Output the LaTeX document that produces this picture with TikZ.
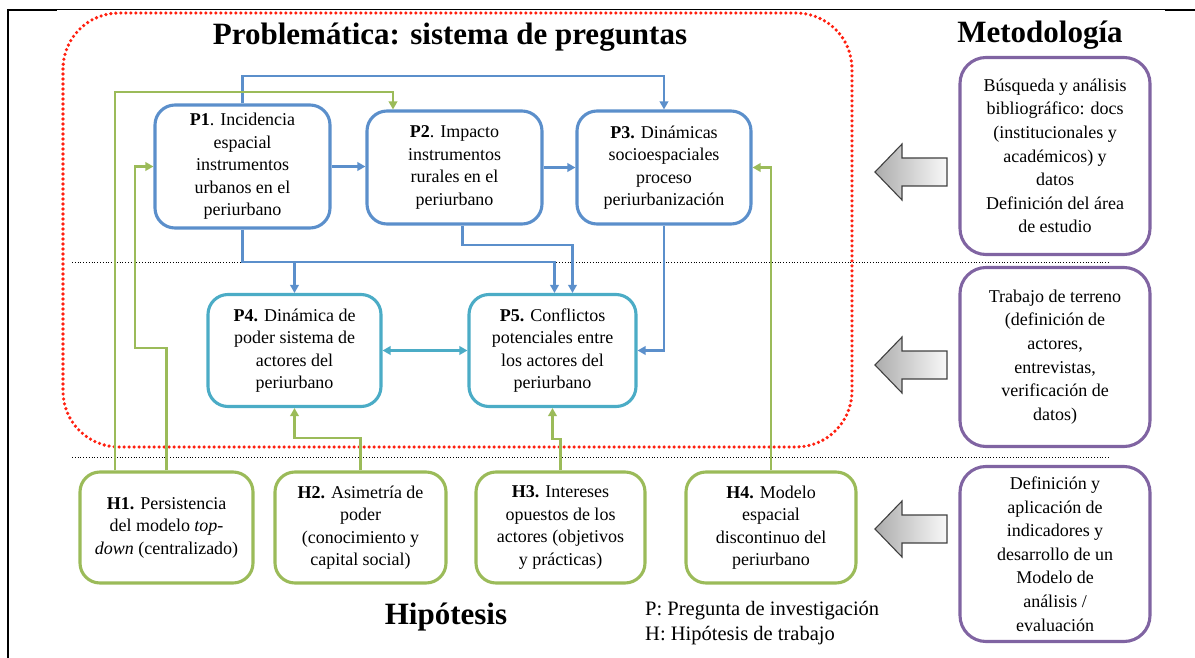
\documentclass[tikz,border=0pt]{standalone}
\usepackage{fontspec}
\setmainfont{Liberation Serif}
\usetikzlibrary{arrows.meta,calc}
\definecolor{pblue}{HTML}{5B8FCB}
\definecolor{pcyan}{HTML}{4BACC6}
\definecolor{hgreen}{HTML}{9BBB59}
\definecolor{mpurple}{HTML}{8064A2}
\definecolor{rdot}{HTML}{FF2010}
\begin{document}
\begin{tikzpicture}[x=1pt,y=-1pt,
  box/.style={draw, line width=3.1pt, rounded corners=20pt, fill=white, align=center, inner sep=2pt,
    font=\fontsize{18}{22.5}\selectfont},
  pbox/.style={box, draw=pblue},
  cbox/.style={box, draw=pcyan},
  hbox/.style={box, draw=hgreen},
  mbox/.style={box, draw=mpurple, rounded corners=26pt, font=\fontsize{18}{23.6}\selectfont},
  tip/.style={-{Triangle[length=8pt,width=8.5pt]}},
  bconn/.style={draw=pblue, line width=2.9pt},
  cconn/.style={draw=pcyan, line width=2.9pt},
  gconn/.style={draw=hgreen, line width=2.9pt},
  title/.style={font=\fontsize{31}{34}\selectfont\bfseries},
  legend/.style={font=\fontsize{20.5}{25}\selectfont, align=left, anchor=north west, inner sep=0pt},
  garrow/.style={left color=gray!65, right color=gray!5, draw=gray!50!black, line width=1.1pt}
]
\useasboundingbox (0,0) rectangle (1195,658);
% frame
\draw[line width=1pt] (57,10) -- (1165,10);
\draw[line width=2.2pt] (8,10) -- (57,10);
\draw[line width=2.2pt] (1165,10) -- (1195,10);
\draw[line width=2.4pt] (8,9) -- (8,658);
% separators
\draw[dotted, line width=0.8pt] (72,262) -- (1110,262);
\draw[dotted, line width=0.8pt] (72,457) -- (1110,457);
% red dotted region
\draw[rdot, line width=3.6pt, line cap=round, dash pattern=on 0pt off 5pt, rounded corners=56pt]
  (63,13) rectangle (852,447);
% titles
\node[title] (tP) at (450,37) {Problemática: sistema de preguntas};
\node[title] (tM) at (1040,35) {Metodología};
\node[title] (tH) at (446,617) {Hipótesis};
\node[legend] (leg) at (645,601) {P: Pregunta de investigación\\H: Hipótesis de trabajo};
% level coordinates
\coordinate (y76) at (0,76);
\coordinate (y92) at (0,92);
\coordinate (y245) at (0,245);
\coordinate (y262) at (0,262);
\coordinate (y348) at (0,348);
\coordinate (y437) at (0,438);
\coordinate (y440) at (0,439);
\coordinate (gx) at (135,0);
% boxes
\node[pbox, minimum width=175pt, minimum height=123pt] (P1) at (242.5,166.5)
  {\textbf{P1}. Incidencia\\espacial\\instrumentos\\urbanos en el\\periurbano};
\node[pbox, minimum width=175pt, minimum height=113pt] (P2) at (454.5,167.5)
  {\textbf{P2}. Impacto\\instrumentos\\rurales en el\\periurbano};
\node[pbox, minimum width=174pt, minimum height=113pt] (P3) at (664,167.5)
  {\textbf{P3.} Dinámicas\\socioespaciales\\proceso\\periurbanización};
\node[cbox, minimum width=173pt, minimum height=112pt] (P4) at (294.5,350.5)
  {\textbf{P4.} Dinámica de\\poder sistema de\\actores del\\periurbano};
\node[cbox, minimum width=167pt, minimum height=112pt] (P5) at (552.5,350.5)
  {\textbf{P5.} Conflictos\\potenciales entre\\los actores del\\periurbano};
\node[hbox, minimum width=173pt, minimum height=111pt] (H1) at (166.5,527.5)
  {\textbf{H1.} Persistencia\\del modelo \textit{top-}\\\textit{down} (centralizado)};
\node[hbox, minimum width=171pt, minimum height=111pt] (H2) at (360.5,527.5)
  {\textbf{H2.} Asimetría de\\poder\\(conocimiento y\\capital social)};
\node[hbox, minimum width=169pt, minimum height=111pt] (H3) at (560.5,527.5)
  {\textbf{H3.} Intereses\\opuestos de los\\actores (objetivos\\y prácticas)};
\node[hbox, minimum width=170pt, minimum height=111pt] (H4) at (771,527.5)
  {\textbf{H4.} Modelo\\espacial\\discontinuo del\\periurbano};
\node[mbox, minimum width=190pt, minimum height=197pt] (M1) at (1055,156)
  {Búsqueda y análisis\\bibliográfico: docs\\(institucionales y\\académicos) y\\datos\\Definición del área\\de estudio};
\node[mbox, minimum width=190pt, minimum height=179pt] (M2) at (1055,357)
  {Trabajo de terreno\\(definición de\\actores,\\entrevistas,\\verificación de\\datos)};
\node[mbox, minimum width=190pt, minimum height=175pt] (M3) at (1055,554)
  {Definición y\\aplicación de\\indicadores y\\desarrollo de un\\Modelo de\\análisis /\\evaluación};
% blue connectors
\draw[bconn, tip] (P1.east) -- (P1.east -| P2.west);
\draw[bconn, tip] (P2.east) -- (P2.east -| P3.west);
\draw[bconn, tip] (P1.north) -- (P1.north |- y76) -| (P3.north);
\draw[bconn, tip] (P1.south) -- (P1.south |- y262) -| ([xshift=2pt]P5.north);
\draw[bconn, tip] (P4.north |- y262) -- (P4.north);
\draw[bconn, tip] ([xshift=8pt]P2.south) -- ([xshift=8pt]P2.south |- y245) -| ([xshift=20pt]P5.north);
\draw[bconn, tip] (P3.south) |- (P5.east);
% cyan connector
\draw[cconn, {Triangle[length=8pt,width=8.5pt]}-{Triangle[length=8pt,width=8.5pt]}] (P4.east) -- (P5.west);
% green connectors
\draw[gconn, tip] ([xshift=-51.5pt]H1.north) -- ([xshift=-51.5pt]H1.north |- y92) -| ([xshift=-61.5pt]P2.north);
\draw[gconn, tip] (H1.north) -- (H1.north |- y348) -- (gx |- y348) |- (P1.west);
\draw[gconn, tip] (H2.north) -- (H2.north |- y437) -| (P4.south);
\draw[gconn, tip] (H3.north) -- (H3.north |- y440) -| (P5.south);
\draw[gconn, tip] (H4.north) |- (P3.east);
% gray block arrows
\foreach \c in {172,365,529}{
  \shade[garrow] (875,\c) -- (902,\c-28) -- (902,\c-14) -- (947,\c-14) -- (947,\c+14)
    -- (902,\c+14) -- (902,\c+28) -- cycle;
}
\end{tikzpicture}
\end{document}
